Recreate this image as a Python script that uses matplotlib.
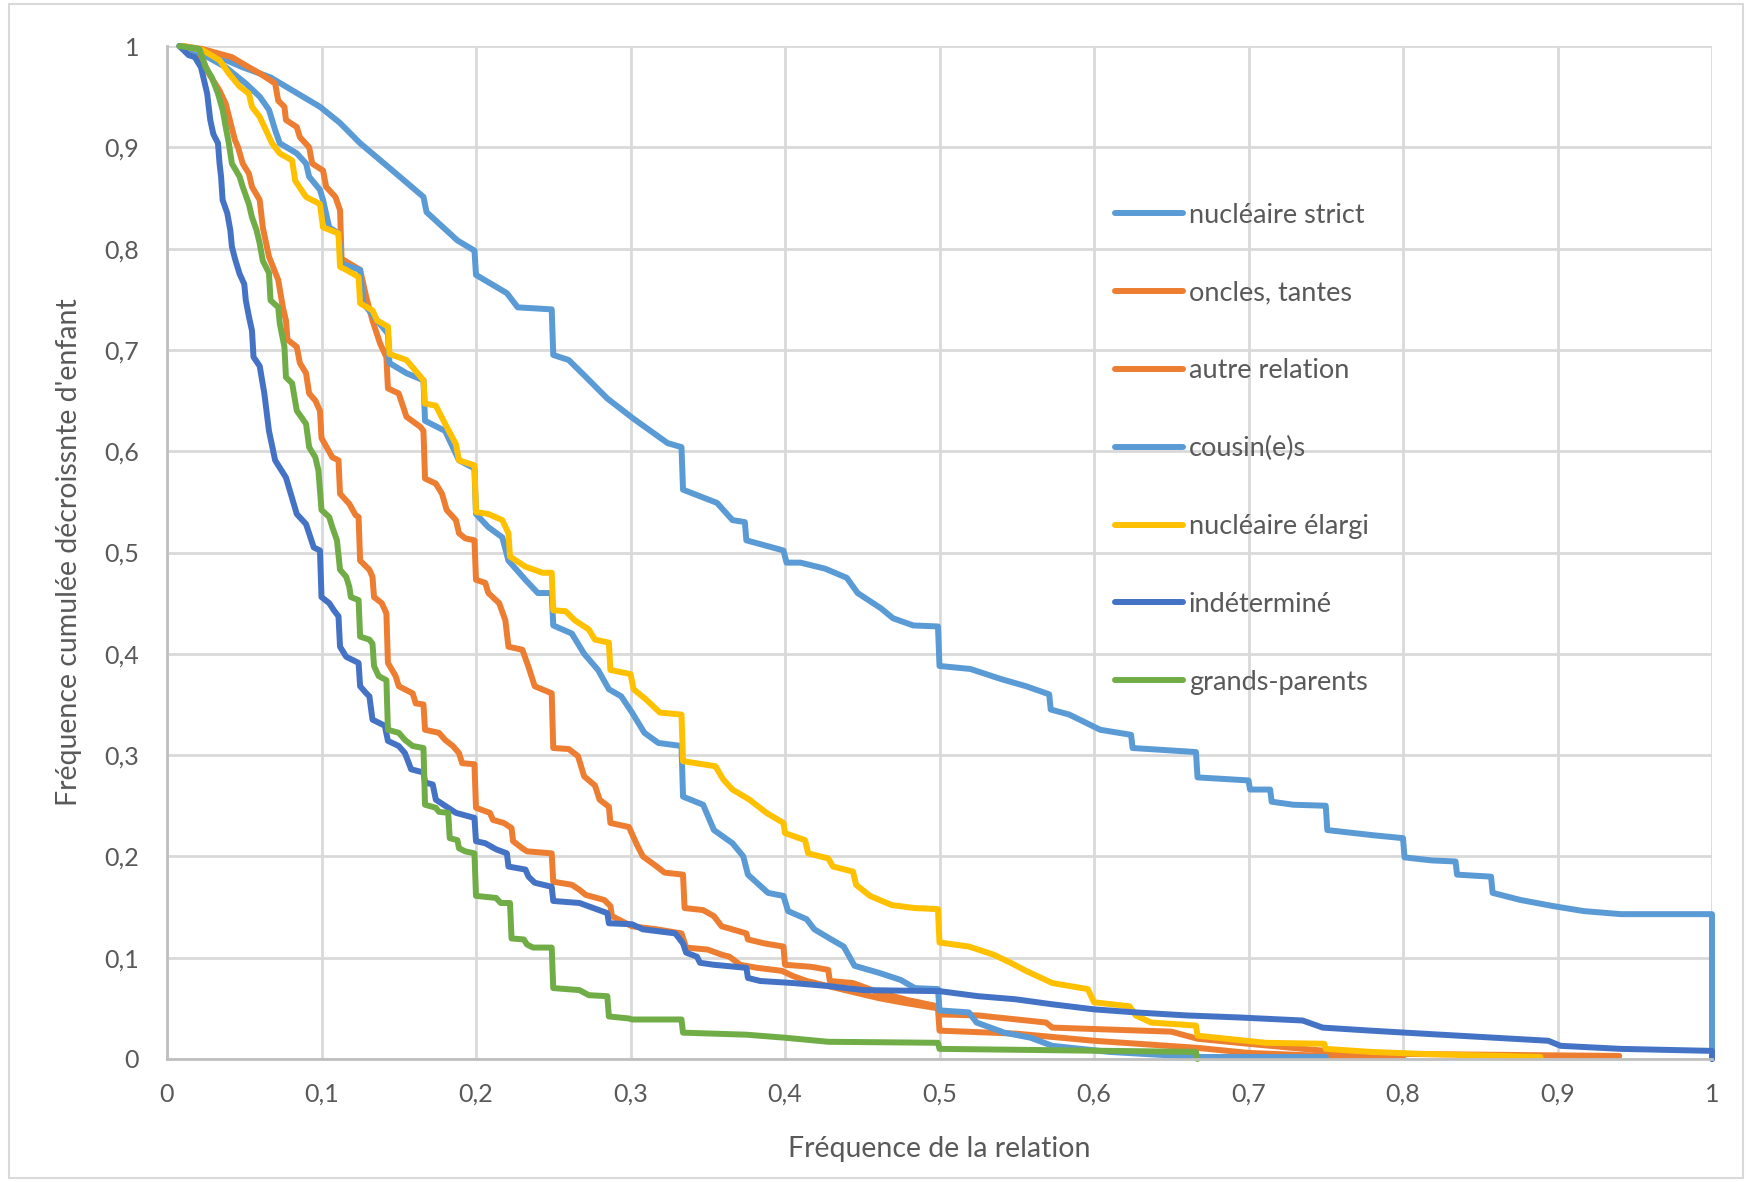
import matplotlib
matplotlib.use("Agg")
import matplotlib.pyplot as plt
from matplotlib.patches import Rectangle

# courbes (x = fréquence de la relation, y = fréquence cumulée décroissante)
nucleaire_strict = [(0.008, 1.0), (0.023, 0.996), (0.049, 0.979), (0.067, 0.969), (0.078, 0.959),
    (0.099, 0.94), (0.112, 0.924), (0.125, 0.904), (0.146, 0.877), (0.166, 0.851), (0.168, 0.836),
    (0.188, 0.808), (0.199, 0.798), (0.2, 0.774), (0.22, 0.756), (0.227, 0.742), (0.249, 0.74),
    (0.25, 0.695), (0.26, 0.69), (0.27, 0.675), (0.285, 0.652), (0.302, 0.632), (0.324, 0.608),
    (0.333, 0.604), (0.334, 0.562), (0.356, 0.549), (0.366, 0.532), (0.374, 0.53), (0.375, 0.512),
    (0.399, 0.502), (0.401, 0.49), (0.41, 0.49), (0.426, 0.484), (0.44, 0.475), (0.447, 0.46),
    (0.462, 0.445), (0.47, 0.435), (0.483, 0.428), (0.499, 0.427), (0.5, 0.388), (0.52, 0.385),
    (0.54, 0.375), (0.556, 0.368), (0.571, 0.36), (0.572, 0.345), (0.584, 0.34), (0.604, 0.325),
    (0.624, 0.32), (0.625, 0.307), (0.666, 0.303), (0.667, 0.278), (0.7, 0.275), (0.701, 0.266),
    (0.714, 0.266), (0.715, 0.254), (0.729, 0.251), (0.75, 0.25), (0.751, 0.226), (0.78, 0.221),
    (0.8, 0.218), (0.801, 0.199), (0.819, 0.196), (0.834, 0.195), (0.835, 0.182), (0.857, 0.18),
    (0.858, 0.164), (0.876, 0.157), (0.897, 0.151), (0.917, 0.146), (0.941, 0.143), (1.0, 0.143),
    (1.0, 0.0)]

oncles_tantes = [(0.01, 1.0), (0.023, 0.997), (0.042, 0.989), (0.053, 0.979), (0.06, 0.973),
    (0.07, 0.963), (0.072, 0.946), (0.076, 0.94), (0.077, 0.927), (0.084, 0.92), (0.086, 0.91),
    (0.092, 0.9), (0.094, 0.884), (0.101, 0.877), (0.103, 0.861), (0.109, 0.851), (0.112, 0.838),
    (0.113, 0.79), (0.125, 0.779), (0.129, 0.752), (0.133, 0.729), (0.138, 0.706), (0.142, 0.693),
    (0.143, 0.662), (0.15, 0.657), (0.155, 0.634), (0.164, 0.624), (0.166, 0.62), (0.167, 0.573),
    (0.174, 0.568), (0.178, 0.558), (0.181, 0.542), (0.187, 0.532), (0.189, 0.519), (0.193, 0.514),
    (0.199, 0.512), (0.2, 0.473), (0.206, 0.47), (0.208, 0.46), (0.215, 0.45), (0.219, 0.433),
    (0.221, 0.407), (0.23, 0.404), (0.234, 0.387), (0.238, 0.368), (0.249, 0.361), (0.25, 0.307),
    (0.26, 0.306), (0.266, 0.299), (0.27, 0.279), (0.277, 0.27), (0.28, 0.256), (0.286, 0.249),
    (0.287, 0.233), (0.299, 0.229), (0.304, 0.212), (0.308, 0.2), (0.317, 0.19), (0.322, 0.184),
    (0.334, 0.182), (0.335, 0.149), (0.347, 0.147), (0.354, 0.141), (0.359, 0.131), (0.375, 0.124),
    (0.376, 0.118), (0.387, 0.114), (0.399, 0.111), (0.4, 0.093), (0.417, 0.091), (0.428, 0.088),
    (0.429, 0.077), (0.444, 0.075), (0.46, 0.066), (0.48, 0.058), (0.499, 0.052), (0.5, 0.044),
    (0.525, 0.043), (0.569, 0.036), (0.573, 0.031), (0.65, 0.027), (0.667, 0.02), (0.7, 0.015),
    (0.75, 0.008), (0.8, 0.005), (0.94, 0.003)]

autre_relation = [(0.01, 1.0), (0.022, 0.99), (0.027, 0.973), (0.034, 0.956), (0.038, 0.943),
    (0.044, 0.907), (0.046, 0.9), (0.049, 0.884), (0.053, 0.874), (0.055, 0.861), (0.06, 0.848),
    (0.062, 0.821), (0.066, 0.792), (0.072, 0.769), (0.075, 0.742), (0.077, 0.729), (0.078, 0.71),
    (0.084, 0.703), (0.086, 0.687), (0.09, 0.677), (0.092, 0.657), (0.096, 0.65), (0.099, 0.64),
    (0.1, 0.613), (0.107, 0.594), (0.111, 0.591), (0.112, 0.558), (0.118, 0.548), (0.122, 0.537),
    (0.124, 0.535), (0.125, 0.492), (0.131, 0.483), (0.133, 0.476), (0.134, 0.456), (0.139, 0.45),
    (0.142, 0.44), (0.143, 0.391), (0.148, 0.378), (0.15, 0.368), (0.159, 0.361), (0.161, 0.351),
    (0.166, 0.35), (0.167, 0.325), (0.176, 0.322), (0.18, 0.315), (0.185, 0.309), (0.189, 0.302),
    (0.191, 0.292), (0.199, 0.291), (0.2, 0.248), (0.209, 0.243), (0.211, 0.236), (0.218, 0.233),
    (0.223, 0.228), (0.224, 0.215), (0.23, 0.208), (0.233, 0.205), (0.249, 0.203), (0.25, 0.175),
    (0.262, 0.172), (0.267, 0.167), (0.271, 0.162), (0.283, 0.157), (0.287, 0.151), (0.288, 0.141),
    (0.301, 0.131), (0.317, 0.128), (0.333, 0.124), (0.336, 0.11), (0.35, 0.108), (0.359, 0.103),
    (0.364, 0.101), (0.371, 0.093), (0.382, 0.09), (0.398, 0.087), (0.405, 0.082), (0.414, 0.077),
    (0.428, 0.072), (0.447, 0.065), (0.461, 0.06), (0.475, 0.056), (0.499, 0.05), (0.5, 0.028),
    (0.55, 0.025), (0.6, 0.018), (0.667, 0.011), (0.7, 0.006), (0.75, 0.003), (0.8, 0.002)]

cousins = [(0.01, 1.0), (0.023, 0.992), (0.038, 0.979), (0.051, 0.963), (0.06, 0.95),
    (0.066, 0.937), (0.07, 0.917), (0.073, 0.904), (0.084, 0.894), (0.09, 0.884), (0.092, 0.871),
    (0.099, 0.858), (0.101, 0.848), (0.105, 0.821), (0.111, 0.815), (0.113, 0.785), (0.125, 0.779),
    (0.127, 0.746), (0.136, 0.729), (0.143, 0.716), (0.144, 0.687), (0.155, 0.677), (0.166, 0.67),
    (0.167, 0.63), (0.18, 0.62), (0.189, 0.591), (0.199, 0.583), (0.2, 0.538), (0.208, 0.525),
    (0.217, 0.515), (0.221, 0.492), (0.232, 0.473), (0.24, 0.46), (0.249, 0.46), (0.25, 0.428),
    (0.262, 0.42), (0.27, 0.4), (0.279, 0.384), (0.286, 0.365), (0.294, 0.358), (0.301, 0.342),
    (0.309, 0.322), (0.318, 0.312), (0.333, 0.309), (0.334, 0.259), (0.347, 0.251), (0.354, 0.226),
    (0.366, 0.213), (0.373, 0.2), (0.376, 0.182), (0.389, 0.164), (0.399, 0.161), (0.402, 0.146),
    (0.414, 0.138), (0.419, 0.128), (0.43, 0.118), (0.438, 0.111), (0.445, 0.092), (0.461, 0.085),
    (0.475, 0.078), (0.484, 0.07), (0.499, 0.069), (0.5, 0.048), (0.519, 0.046), (0.524, 0.036),
    (0.542, 0.026), (0.559, 0.021), (0.573, 0.013), (0.61, 0.007), (0.667, 0.002), (0.75, 0.002)]

nucleaire_elargi = [(0.01, 1.0), (0.023, 0.996), (0.034, 0.986), (0.04, 0.973), (0.047, 0.96),
    (0.053, 0.953), (0.055, 0.94), (0.06, 0.93), (0.064, 0.917), (0.068, 0.904), (0.073, 0.894),
    (0.081, 0.887), (0.083, 0.867), (0.09, 0.851), (0.099, 0.844), (0.101, 0.821), (0.111, 0.815),
    (0.112, 0.782), (0.116, 0.779), (0.124, 0.772), (0.125, 0.746), (0.133, 0.739), (0.136, 0.729),
    (0.143, 0.723), (0.144, 0.696), (0.155, 0.69), (0.166, 0.67), (0.167, 0.647), (0.174, 0.645),
    (0.18, 0.627), (0.187, 0.607), (0.189, 0.591), (0.199, 0.586), (0.2, 0.54), (0.208, 0.538),
    (0.217, 0.532), (0.221, 0.519), (0.222, 0.496), (0.232, 0.486), (0.243, 0.48), (0.249, 0.48),
    (0.25, 0.443), (0.258, 0.442), (0.264, 0.433), (0.273, 0.424), (0.277, 0.414), (0.286, 0.411),
    (0.287, 0.384), (0.3, 0.38), (0.302, 0.365), (0.31, 0.355), (0.319, 0.342), (0.333, 0.34),
    (0.334, 0.294), (0.355, 0.289), (0.36, 0.276), (0.366, 0.266), (0.377, 0.256), (0.388, 0.243),
    (0.399, 0.233), (0.4, 0.223), (0.413, 0.216), (0.415, 0.203), (0.428, 0.198), (0.431, 0.19),
    (0.444, 0.185), (0.446, 0.172), (0.455, 0.161), (0.469, 0.152), (0.484, 0.149), (0.499, 0.148),
    (0.5, 0.115), (0.519, 0.111), (0.535, 0.103), (0.546, 0.095), (0.556, 0.087), (0.573, 0.075),
    (0.596, 0.069), (0.6, 0.056), (0.623, 0.052), (0.627, 0.043), (0.637, 0.036), (0.666, 0.033),
    (0.667, 0.023), (0.711, 0.016), (0.749, 0.015), (0.75, 0.01), (0.779, 0.007), (0.813, 0.005),
    (0.889, 0.002)]

indetermine = [(0.008, 1.0), (0.014, 0.991), (0.018, 0.989), (0.022, 0.979), (0.024, 0.966),
    (0.026, 0.953), (0.027, 0.94), (0.028, 0.927), (0.03, 0.913), (0.033, 0.904), (0.034, 0.884),
    (0.035, 0.871), (0.036, 0.848), (0.039, 0.835), (0.041, 0.818), (0.042, 0.802), (0.044, 0.79),
    (0.047, 0.775), (0.05, 0.765), (0.051, 0.749), (0.053, 0.733), (0.055, 0.719), (0.056, 0.693),
    (0.06, 0.684), (0.063, 0.657), (0.066, 0.62), (0.07, 0.591), (0.077, 0.574), (0.084, 0.538),
    (0.09, 0.528), (0.095, 0.505), (0.099, 0.502), (0.1, 0.456), (0.105, 0.45), (0.108, 0.443),
    (0.111, 0.437), (0.112, 0.407), (0.116, 0.397), (0.12, 0.394), (0.124, 0.391), (0.125, 0.368),
    (0.129, 0.361), (0.131, 0.358), (0.133, 0.335), (0.137, 0.332), (0.141, 0.329), (0.143, 0.314),
    (0.15, 0.309), (0.154, 0.302), (0.158, 0.286), (0.163, 0.284), (0.166, 0.283), (0.167, 0.273),
    (0.172, 0.271), (0.174, 0.256), (0.18, 0.25), (0.187, 0.243), (0.199, 0.238), (0.2, 0.215),
    (0.206, 0.213), (0.213, 0.207), (0.22, 0.203), (0.221, 0.19), (0.232, 0.187), (0.234, 0.18),
    (0.238, 0.174), (0.249, 0.17), (0.25, 0.156), (0.267, 0.154), (0.276, 0.149), (0.285, 0.144),
    (0.286, 0.134), (0.301, 0.133), (0.308, 0.128), (0.329, 0.124), (0.334, 0.114), (0.336, 0.105),
    (0.343, 0.101), (0.345, 0.095), (0.354, 0.093), (0.375, 0.09), (0.376, 0.08), (0.384, 0.077),
    (0.405, 0.075), (0.428, 0.072), (0.451, 0.068), (0.5, 0.067), (0.525, 0.062), (0.549, 0.059),
    (0.573, 0.054), (0.6, 0.049), (0.627, 0.046), (0.66, 0.043), (0.694, 0.041), (0.735, 0.038),
    (0.748, 0.031), (0.779, 0.028), (0.813, 0.025), (0.894, 0.018), (0.902, 0.013), (0.941, 0.01),
    (1.0, 0.008), (1.0, 0.0)]

grands_parents = [(0.008, 1.0), (0.021, 0.997), (0.025, 0.979), (0.029, 0.969), (0.033, 0.953),
    (0.036, 0.937), (0.038, 0.92), (0.04, 0.904), (0.042, 0.884), (0.047, 0.871), (0.049, 0.861),
    (0.053, 0.844), (0.055, 0.831), (0.058, 0.818), (0.06, 0.805), (0.062, 0.788), (0.066, 0.776),
    (0.067, 0.749), (0.072, 0.742), (0.073, 0.726), (0.076, 0.703), (0.077, 0.673), (0.081, 0.667),
    (0.084, 0.64), (0.09, 0.627), (0.092, 0.604), (0.096, 0.594), (0.098, 0.581), (0.1, 0.542),
    (0.105, 0.535), (0.107, 0.525), (0.11, 0.512), (0.112, 0.483), (0.116, 0.476), (0.118, 0.466),
    (0.119, 0.456), (0.124, 0.453), (0.125, 0.417), (0.131, 0.414), (0.133, 0.41), (0.134, 0.388),
    (0.137, 0.378), (0.142, 0.374), (0.143, 0.325), (0.15, 0.322), (0.154, 0.315), (0.159, 0.309),
    (0.166, 0.307), (0.167, 0.251), (0.174, 0.248), (0.176, 0.244), (0.182, 0.243), (0.183, 0.218),
    (0.188, 0.216), (0.189, 0.208), (0.193, 0.205), (0.199, 0.203), (0.2, 0.161), (0.213, 0.159),
    (0.216, 0.154), (0.222, 0.154), (0.223, 0.119), (0.231, 0.118), (0.233, 0.113), (0.237, 0.11),
    (0.249, 0.11), (0.25, 0.07), (0.267, 0.068), (0.273, 0.063), (0.285, 0.062), (0.286, 0.042),
    (0.299, 0.04), (0.301, 0.039), (0.333, 0.039), (0.334, 0.026), (0.375, 0.024), (0.4, 0.021),
    (0.428, 0.017), (0.499, 0.016), (0.5, 0.01), (0.666, 0.007), (0.667, 0.0)]

series = [nucleaire_strict, oncles_tantes, autre_relation, cousins,
          nucleaire_elargi, indetermine, grands_parents]
labels = ["nucléaire strict", "oncles, tantes", "autre relation", "cousin(e)s",
          "nucléaire élargi", "indéterminé", "grands-parents"]
colors = ["#5B9BD5", "#ED7D31", "#ED7D31", "#5B9BD5", "#FFC000", "#4472C4", "#70AD47"]

ticks = [0, 0.1, 0.2, 0.3, 0.4, 0.5, 0.6, 0.7, 0.8, 0.9, 1]
tick_labels = ["0", "0,1", "0,2", "0,3", "0,4", "0,5", "0,6", "0,7", "0,8", "0,9", "1"]

plt.rcParams['font.family'] = ['Lato', 'DejaVu Sans']
grey = "#595959"

fig = plt.figure(figsize=(17.48, 11.82), dpi=100)
ax = fig.add_axes([167 / 1748, 1 - 1059 / 1182, 1545 / 1748, 1013 / 1182])

for pts, lab, col in zip(series, labels, colors):
    xs = [p[0] for p in pts]
    ys = [p[1] for p in pts]
    ax.plot(xs, ys, color=col, lw=4.3, label=lab, clip_on=False,
            solid_joinstyle='round', solid_capstyle='round')

ax.set_xlim(0, 1)
ax.set_ylim(0, 1)
ax.set_xticks(ticks)
ax.set_xticklabels(tick_labels)
ax.set_yticks(ticks)
ax.set_yticklabels(tick_labels)
ax.tick_params(length=0, labelsize=18, labelcolor=grey)
ax.tick_params(axis='x', pad=17)
ax.tick_params(axis='y', pad=20)
ax.grid(True, color="#D9D9D9", lw=2.0)
ax.set_axisbelow(True)
for s in ['top', 'right']:
    ax.spines[s].set_visible(False)
for s in ['left', 'bottom']:
    ax.spines[s].set_color("#BFBFBF")
    ax.spines[s].set_linewidth(2.0)

ax.set_xlabel("Fréquence de la relation", fontsize=20.5, color=grey)
ax.set_ylabel("Fréquence cumulée décroissnte d'enfant", fontsize=20.5, color=grey)
ax.xaxis.set_label_coords(0.5, -0.076)
ax.yaxis.set_label_coords(-0.055, 0.5)

leg = ax.legend(loc='center left', bbox_to_anchor=(0.6136, 0.6025), frameon=False,
                fontsize=19.5, handlelength=2.5, handletextpad=0.22, labelspacing=1.95,
                borderpad=0, borderaxespad=0)
for t in leg.get_texts():
    t.set_color(grey)

fig.patches.append(Rectangle((9 / 1748, 4 / 1182), 1734 / 1748, 1174 / 1182,
                             transform=fig.transFigure, fill=False,
                             edgecolor="#D9D9D9", lw=1.5))

fig.savefig("out.png", dpi=100)
